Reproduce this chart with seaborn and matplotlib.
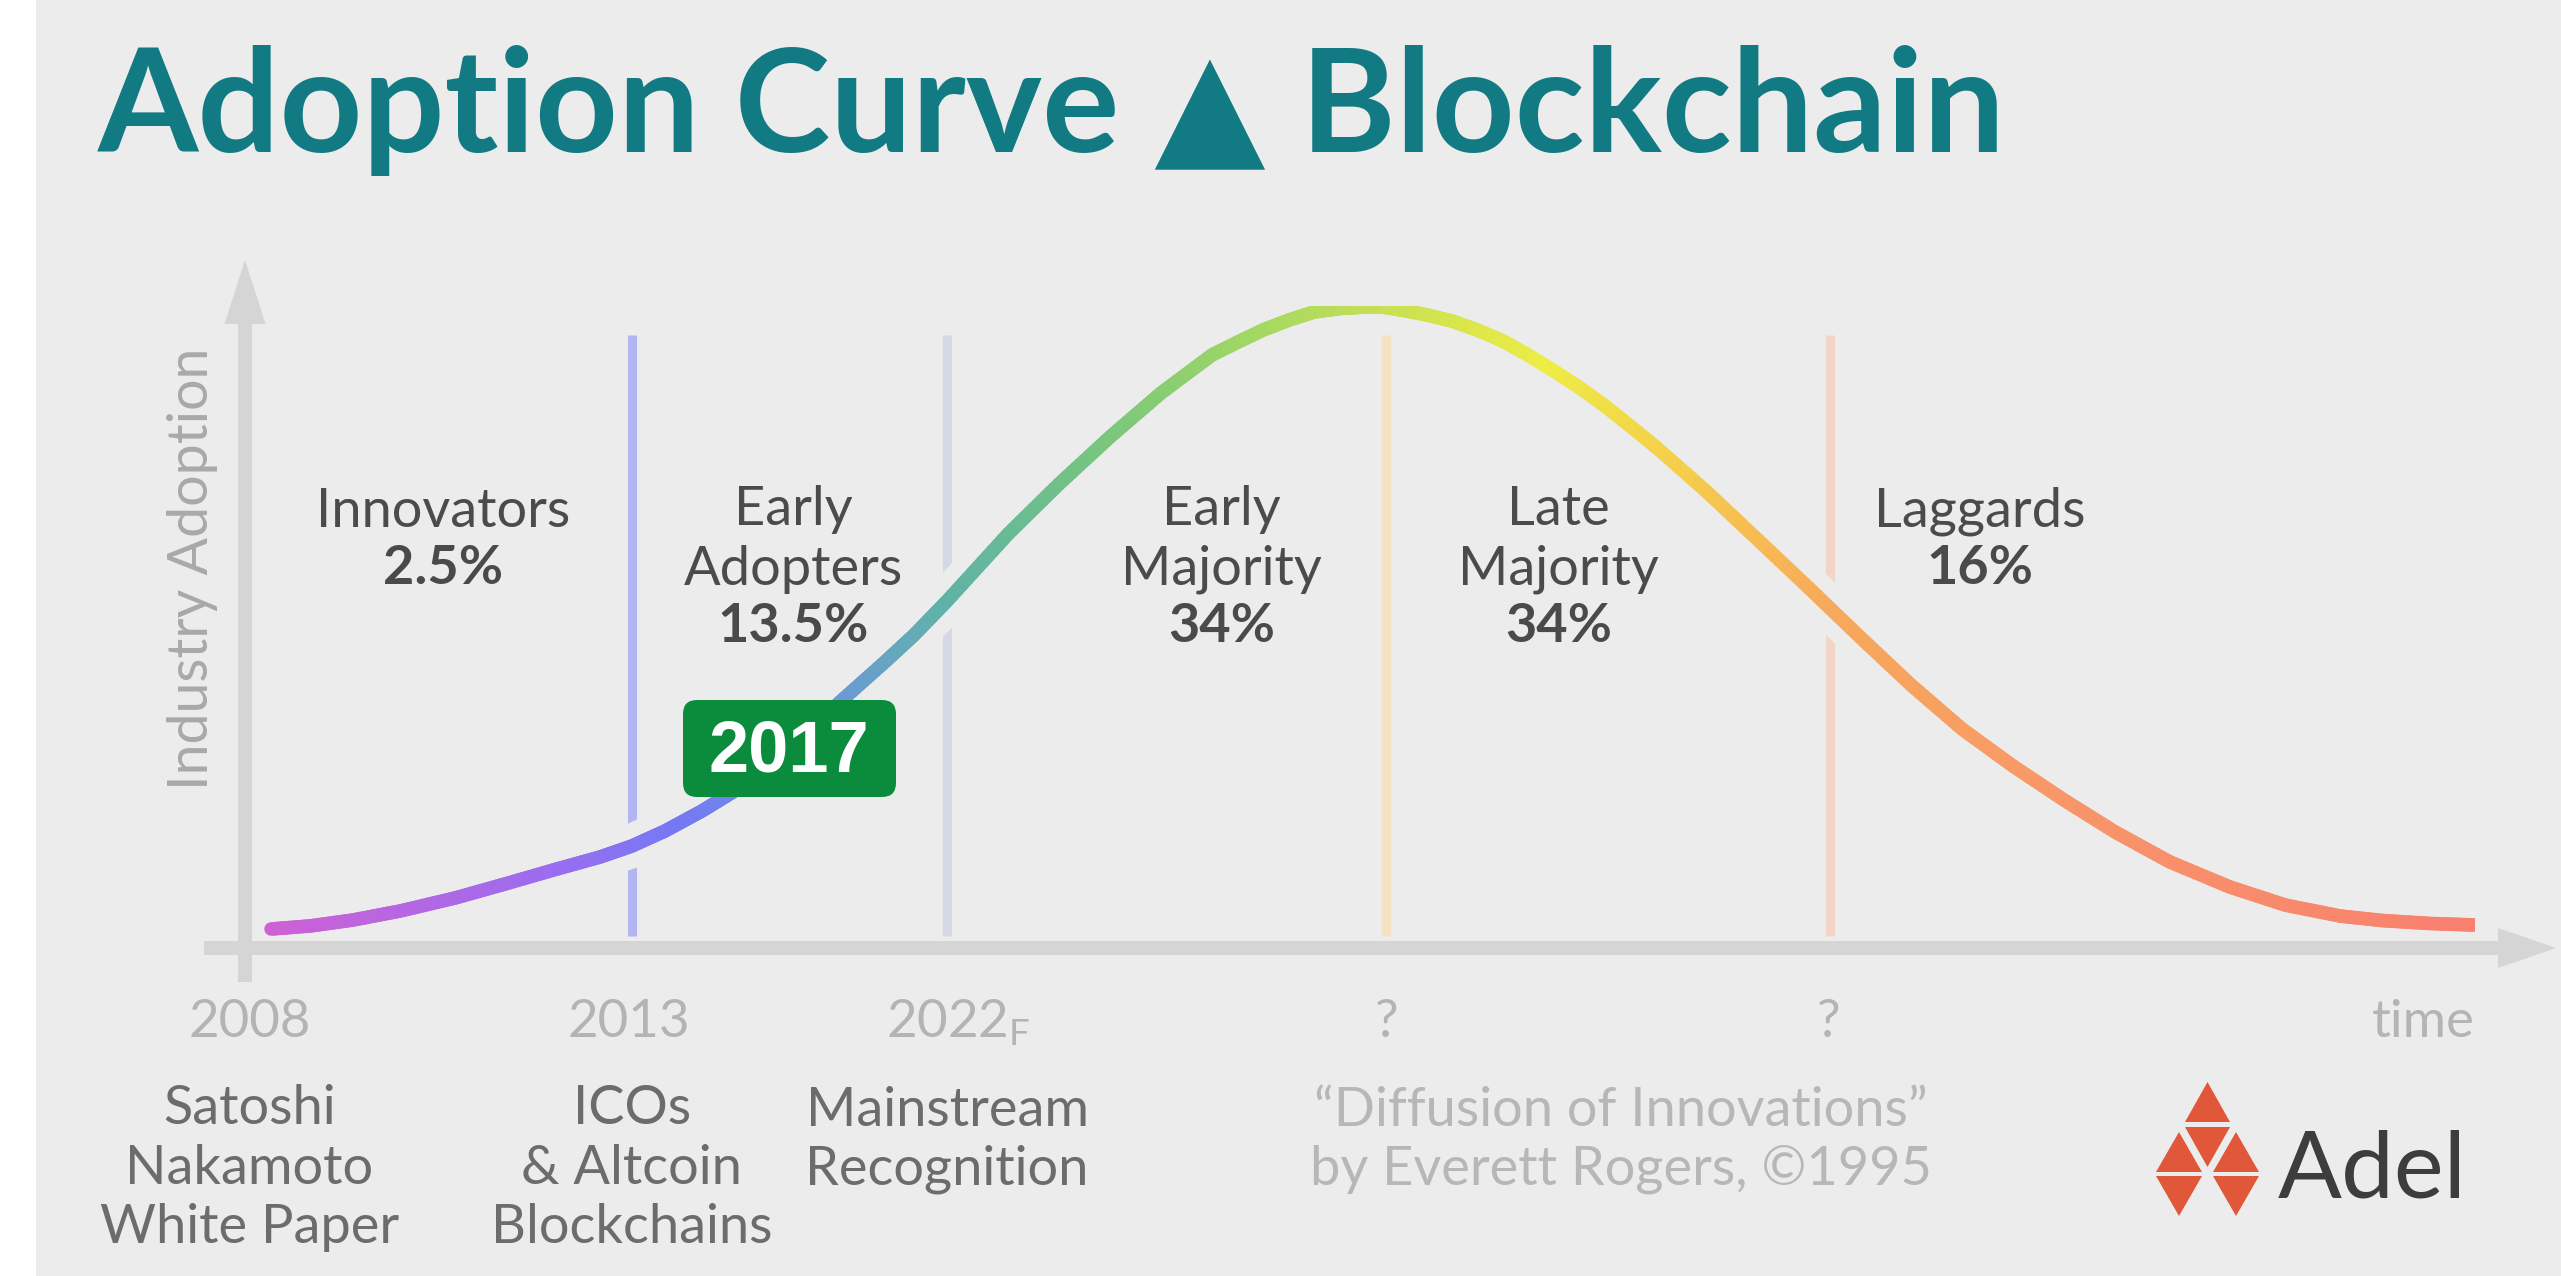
import numpy as np
import matplotlib
matplotlib.use("Agg")
import matplotlib.pyplot as plt
import matplotlib.transforms as mtransforms
import seaborn as sns
from matplotlib.collections import LineCollection
from matplotlib.colors import LinearSegmentedColormap
from matplotlib.patches import Polygon, FancyBboxPatch, Rectangle

# adoption curve
# x: % of the time axis (0 = y axis, 100 = end of curve), y: % of peak height
curve_x = [1.17, 2.91, 4.84, 6.95, 9.42, 11.66, 13.99, 15.92, 17.35, 18.83,
           20.49, 21.88, 23.14, 24.89, 26.68, 28.74, 30.00, 31.48, 34.22, 36.50,
           38.79, 41.08, 43.36, 44.53, 45.65, 46.82, 47.94, 49.10, 50.22, 50.90,
           51.84, 52.96, 54.13, 55.25, 56.41, 57.53, 58.70, 59.87, 60.99, 62.11,
           63.27, 65.56, 67.85, 70.13, 72.42, 74.71, 77.00, 79.28, 81.57, 83.86,
           86.32, 89.01, 91.48, 93.95, 95.83, 97.98, 100.0]
curve_y = [2.96, 3.43, 4.36, 5.76, 7.79, 9.97, 12.31, 14.17, 15.89, 18.22,
           21.34, 24.30, 27.41, 32.55, 38.32, 44.70, 48.75, 54.05, 64.49, 72.27,
           79.60, 86.45, 92.37, 94.39, 96.26, 97.82, 99.07, 99.60, 99.84, 99.92,
           99.38, 98.64, 97.66, 96.26, 94.55, 92.37, 89.88, 87.23, 84.42, 81.30,
           78.04, 71.03, 63.55, 56.07, 48.44, 40.97, 34.11, 28.35, 23.05, 18.07,
           13.40, 9.50, 6.70, 4.98, 4.28, 3.82, 3.58]

stage_names = ["Innovators", "Early\nAdopters", "Early\nMajority", "Late\nMajority", "Laggards"]
stage_shares = ["2.5%", "13.5%", "34%", "34%", "16%"]
stage_x = [8.9, 24.6, 43.8, 58.9, 77.8]

divider_x = [17.35, 31.48, 51.17, 71.08]
divider_colors = ["#b3b5f3", "#d3d8e3", "#f4e3c3", "#f3d5c6"]

tick_x = [0.2, 17.2, 32.0, 51.2, 71.0, 97.7]
tick_labels = ["2008", "2013", r"2022$_{\mathregular{F}}$", "?", "?", "time"]

milestones = ["Satoshi\nNakamoto\nWhite Paper", "ICOs\n& Altcoin\nBlockchains", "Mainstream\nRecognition"]
milestone_x = [0.2, 17.35, 31.48]

# gradient along the curve
grad_x = [0.0, 14.1, 19.5, 27.0, 31.6, 38.3, 45.0, 50.8, 58.5, 65.2, 71.0, 83.0, 100.0]
grad_colors = ["#d35fd3", "#9a6df0", "#7479f3", "#6b9bd3", "#5fb3a6", "#76c57e",
               "#a0d765", "#c4df55", "#eded45", "#f6cb4c", "#f7aa5b", "#f8946a", "#f8806f"]

bg = "#ececec"
axis_gray = "#d5d5d5"
teal = "#127a83"

sns.set_theme(style="white")
plt.rcParams["font.family"] = ["Lato", "DejaVu Sans"]
plt.rcParams["mathtext.fontset"] = "custom"
plt.rcParams["mathtext.rm"] = "Lato"

W, H = 2561, 1276
fig = plt.figure(figsize=(W / 100, H / 100), dpi=100, facecolor=bg)

# decoration layer in pixel coordinates
deco = fig.add_axes([0, 0, 1, 1], zorder=0)
deco.set_xlim(0, W)
deco.set_ylim(H, 0)
deco.axis("off")
deco.add_patch(Rectangle((0, 0), 36, H, color="white", lw=0))

# plot layer: x 0..100 from y axis to curve end, y 0..100 from x axis to peak
x0_px, x1_px, y0_px, y1_px = 245, 2475, 948, 306
ax = fig.add_axes([x0_px / W, (H - y0_px) / H, (x1_px - x0_px) / W, (y0_px - y1_px) / H], zorder=1)
ax.set_xlim(0, 100)
ax.set_ylim(0, 100)
ax.set_facecolor("none")
sns.despine(ax=ax, left=True, bottom=True)
ax.grid(False)
ax.set_yticks([])

px_x = 100 / (x1_px - x0_px)
px_y = 100 / (y0_px - y1_px)

# dividers between adopter groups
ax.vlines(divider_x, 12 * px_y, (y0_px - 335) * px_y, colors=divider_colors,
          linewidth=6.5, zorder=1)

# halo under the curve (cuts the dividers)
sns.lineplot(x=curve_x, y=curve_y, ax=ax, color=bg, linewidth=31.7, sort=False,
             solid_capstyle="butt", zorder=2)

# axes arrows
ax.arrow(0, -34 * px_y, 0, (982 - 260) * px_y, width=14 * px_x, head_width=41 * px_x,
         head_length=64 * px_y, length_includes_head=True, color=axis_gray, lw=0,
         zorder=3, clip_on=False)
ax.arrow(-41 * px_x, 0, (2556 - 204) * px_x, 0, width=14 * px_y, head_width=40 * px_y,
         head_length=58 * px_x, length_includes_head=True, color=axis_gray, lw=0,
         zorder=3, clip_on=False)

# gradient curve
cmap = LinearSegmentedColormap.from_list("adopt", list(zip(np.array(grad_x) / 100, grad_colors)))
pts = np.column_stack([curve_x, curve_y])
fine = []
for a, b in zip(pts[:-1], pts[1:]):
    for t in np.linspace(0, 1, 12, endpoint=False):
        fine.append(a + (b - a) * t)
fine.append(pts[-1])
fine = np.array(fine)
segs = np.stack([fine[:-1], fine[1:]], axis=1)
mid = segs[:, :, 0].mean(axis=1)
lc = LineCollection(segs, colors=cmap(mid / 100), linewidths=9.8, capstyle="round",
                    zorder=4)
ax.add_collection(lc)

# ticks
ax.set_xticks(tick_x, tick_labels)
ax.tick_params(axis="x", length=0, pad=64, labelsize=38, labelcolor="#b4b4b4")
for lab in ax.get_xticklabels():
    lab.set_va("baseline")

# adopter group labels (baseline of first line at 527 px, 57.5 px per line)
line_pt = 41.4
name_y = (y0_px - 527) * px_y
for x, name, share in zip(stage_x, stage_names, stage_shares):
    n = name.count("\n") + 1
    ax.annotate(name, (x, name_y), xytext=(0, -line_pt * (n - 1)), textcoords="offset points",
                ha="center", va="baseline", multialignment="center", fontsize=39,
                color="#4b4b4b", linespacing=1.26, zorder=5)
    ax.annotate(share, (x, name_y), xytext=(0, -line_pt * n), textcoords="offset points",
                ha="center", va="baseline", fontsize=39, fontweight="bold",
                color="#4a4a4a", zorder=5)

# 2017 marker
ax.add_patch(FancyBboxPatch((695, 712), 189, 73, boxstyle="round,pad=12,rounding_size=14",
                            transform=deco.transData, color="#0b8c3c", lw=0,
                            clip_on=False, zorder=6))
ax.text(789, 772, "2017", transform=deco.transData, ha="center", va="baseline",
        fontsize=52, fontweight="bold", color="white", family="Liberation Sans",
        zorder=7, clip_on=False)

# milestone descriptions (first baseline at 1127 px, 58 px per line)
blend = mtransforms.blended_transform_factory(ax.transData, deco.transData)
for x, txt in zip(milestone_x, milestones):
    n = txt.count("\n") + 1
    ax.text(x, 1127 + 58 * (n - 1), txt, transform=blend, ha="center", va="baseline",
            multialignment="center", fontsize=39, color="#6c6c6c",
            linespacing=1.26, clip_on=False)

deco.text(1621, 1185, "\u201cDiffusion of Innovations\u201d\nby Everett Rogers, \u00a91995",
          ha="center", va="baseline", multialignment="center", fontsize=39,
          color="#b7b7b7", linespacing=1.26)

deco.text(193, 569, "Industry Adoption", rotation=90, ha="center", va="center",
          fontsize=40, color="#a9a9a9")

# title
deco.text(98, 152, "Adoption Curve \u25b2 Blockchain", ha="left", va="baseline",
          fontsize=104, fontweight="bold", color=teal, family=["Lato", "DejaVu Sans"])

# logo
logo_red = "#e0573a"
tris = [
    [(2185, 1122), (2230, 1122), (2207.5, 1082)],
    [(2185, 1127), (2230, 1127), (2207.5, 1167)],
    [(2156, 1172), (2202, 1172), (2179, 1132)],
    [(2213, 1172), (2259, 1172), (2236, 1132)],
    [(2156, 1176), (2202, 1176), (2179, 1216)],
    [(2213, 1176), (2259, 1176), (2236, 1216)],
]
for tri in tris:
    deco.add_patch(Polygon(tri, closed=True, color=logo_red, lw=0))
deco.text(2278, 1197, "Adel", ha="left", va="baseline", fontsize=68, color="#3d3d3d")

fig.savefig("out.png", dpi=100, facecolor=fig.get_facecolor())
